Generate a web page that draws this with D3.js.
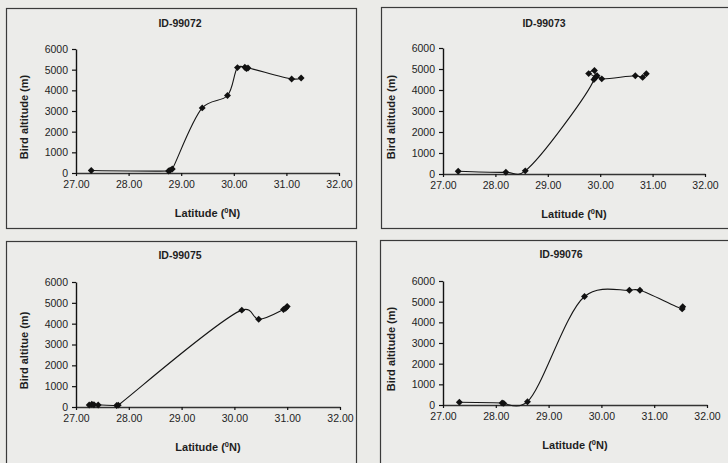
<!DOCTYPE html>
<html>
<head>
<meta charset="utf-8">
<script src="https://cdn.jsdelivr.net/npm/d3@7/dist/d3.min.js"></script>
<style>
  html, body { margin: 0; padding: 0; background: #ebebe8; }
  svg { display: block; }
  text { font-family: "Liberation Sans", Arial, sans-serif; fill: #1e1e1e; }
</style>
</head>
<body>
<svg id="chart" width="728" height="463"></svg>
<script>
// ---- data ----
const panelIds = ["ID-99072", "ID-99073", "ID-99075", "ID-99076"];
const yTitles = ["Bird altitude (m)", "Bird altitude (m)", "Bird altitue (m)", "Bird altitude (m)"];
const xTickValues = [27, 28, 29, 30, 31, 32];
const yTickValues = [0, 1000, 2000, 3000, 4000, 5000, 6000];

const lat99072 = [27.29, 28.76, 28.79, 28.83, 29.40, 29.88, 30.07, 30.21, 30.24, 30.27, 31.10, 31.28];
const alt99072 = [120, 100, 130, 190, 3150, 3750, 5100, 5120, 5050, 5080, 4550, 4600];

const lat99073 = [27.29, 28.20, 28.57, 29.88, 29.78, 29.89, 29.91, 29.94, 30.03, 30.67, 30.81, 30.88];
const alt99073 = [130, 80, 150, 4500, 4780, 4930, 4600, 4680, 4530, 4680, 4600, 4770];

const lat99075 = [27.25, 27.30, 27.34, 27.42, 27.77, 27.80, 30.14, 30.46, 30.93, 30.97, 31.00];
const alt99075 = [100, 130, 110, 100, 70, 90, 4650, 4210, 4680, 4740, 4820];

const lat99076 = [27.31, 28.12, 28.15, 28.60, 29.68, 30.53, 30.73, 31.53, 31.54];
const alt99076 = [130, 100, 80, 160, 5250, 5550, 5550, 4650, 4750];

const lats = [lat99072, lat99073, lat99075, lat99076];
const alts = [alt99072, alt99073, alt99075, alt99076];

// ---- layout ----
const layout = [
  { fx: 6,   fy: 8,   fw: 350, fh: 220, x0: 76,  x1: 339, yb: 173, yt: 49,  tx: 180, ty: 27 },
  { fx: 381, fy: 7,   fw: 360, fh: 221, x0: 443, x1: 705, yb: 174, yt: 48,  tx: 544, ty: 27 },
  { fx: 6,   fy: 241, fw: 350, fh: 240, x0: 76,  x1: 340, yb: 407, yt: 282, tx: 180, ty: 259 },
  { fx: 380, fy: 240, fw: 360, fh: 240, x0: 443, x1: 707, yb: 405, yt: 281, tx: 561, ty: 258 }
];

const svg = d3.select("#chart");

layout.forEach((L, i) => {
  const g = svg.append("g");
  g.append("rect")
    .attr("x", L.fx + 0.5).attr("y", L.fy + 0.5)
    .attr("width", L.fw).attr("height", L.fh)
    .attr("fill", "#ececea").attr("stroke", "#3a3a3a").attr("stroke-width", 1.2);

  const x = d3.scaleLinear().domain([27, 32]).range([L.x0, L.x1]);
  const y = d3.scaleLinear().domain([0, 6000]).range([L.yb, L.yt]);

  // title
  g.append("text").attr("x", L.tx).attr("y", L.ty)
    .attr("text-anchor", "middle").attr("font-size", 10.5).attr("font-weight", "bold")
    .text(panelIds[i]);

  // y axis
  const yAxis = d3.axisLeft(y).tickValues(yTickValues).tickFormat(d3.format("d"))
    .tickSize(4).tickSizeOuter(0).tickPadding(4);
  const ya = g.append("g").attr("transform", `translate(${L.x0},0)`).call(yAxis);
  ya.select(".domain").attr("stroke", "#111").attr("stroke-width", 1.4);
  ya.selectAll(".tick line").attr("stroke", "#111").attr("stroke-width", 1.2);
  ya.selectAll(".tick text").attr("font-size", 10.5).attr("fill", "#1e1e1e")
    .attr("font-family", "Liberation Sans, Arial, sans-serif");

  // x axis
  const xAxis = d3.axisBottom(x).tickValues(xTickValues).tickFormat(d3.format(".2f"))
    .tickSize(3).tickSizeOuter(0).tickPadding(5);
  const xa = g.append("g").attr("transform", `translate(0,${L.yb})`).call(xAxis);
  xa.select(".domain").attr("stroke", "#333").attr("stroke-width", 1.5);
  xa.selectAll(".tick line").attr("stroke", "#111").attr("stroke-width", 1.2);
  xa.selectAll(".tick text").attr("font-size", 10.5).attr("fill", "#1e1e1e")
    .attr("font-family", "Liberation Sans, Arial, sans-serif");

  // y title
  const ycx = (L.x0 - 48), ycy = (L.yb + L.yt) / 2 + 6;
  g.append("text")
    .attr("transform", `translate(${ycx},${ycy}) rotate(-90)`)
    .attr("text-anchor", "middle").attr("font-size", 11).attr("font-weight", "bold")
    .text(yTitles[i]);

  // x title with superscript
  const xt = g.append("text")
    .attr("x", (L.x0 + L.x1) / 2).attr("y", L.yb + 44)
    .attr("text-anchor", "middle").attr("font-size", 11).attr("font-weight", "bold");
  xt.append("tspan").text("Latitude (");
  xt.append("tspan").attr("font-size", 7.5).attr("dy", -4).text("0");
  xt.append("tspan").attr("dy", 4).text("N)");

  // data
  const pts = lats[i].map((v, k) => [v, alts[i][k]]);
  const line = d3.line().x(d => x(d[0])).y(d => y(d[1])).curve(d3.curveCatmullRom.alpha(0.3));
  g.append("path").datum(pts).attr("d", line)
    .attr("fill", "none").attr("stroke", "#151515").attr("stroke-width", 1.1);

  const sym = d3.symbol().type(d3.symbolSquare).size(24);
  g.selectAll("path.m").data(pts).enter().append("path").attr("class", "m")
    .attr("d", sym)
    .attr("transform", d => `translate(${x(d[0])},${y(d[1])}) rotate(45)`)
    .attr("fill", "#111");
});
</script>
</body>
</html>
